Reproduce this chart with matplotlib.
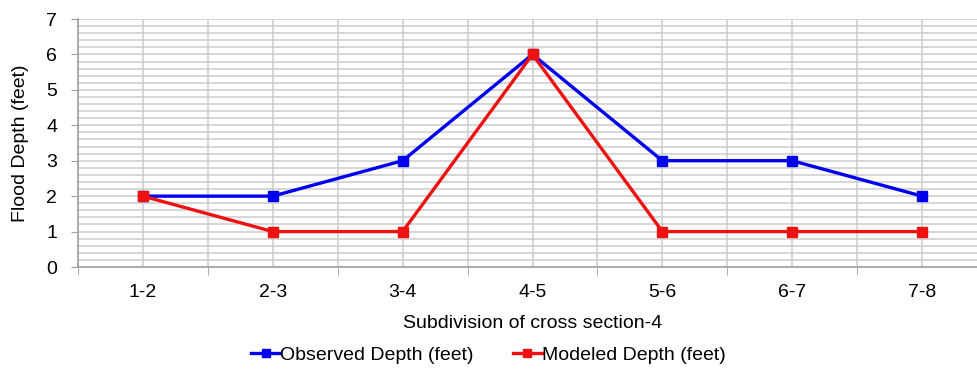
import numpy as np
import matplotlib.pyplot as plt
from matplotlib.ticker import MultipleLocator, FixedLocator

plt.rcParams['font.family'] = ['Liberation Sans', 'DejaVu Sans']

categories = ["1-2", "2-3", "3-4", "4-5", "5-6", "6-7", "7-8"]
observed = [2, 2, 3, 6, 3, 3, 2]
modeled = [2, 1, 1, 6, 1, 1, 1]

fig = plt.figure(figsize=(9.77, 3.75), dpi=100)
ax = fig.add_axes([78 / 977, 1 - 267 / 375, (987 - 78) / 977, (267 - 19) / 375])

x = np.arange(len(categories))
ax.plot(x, observed, color="#0000ee", lw=2.4, marker="s", ms=6.5,
        label="Observed Depth (feet)", zorder=3)
ax.plot(x, modeled, color="#ee1111", lw=2.4, marker="s", ms=6.5,
        label="Modeled Depth (feet)", zorder=4)

ax.set_xlim(-0.5, len(categories) - 0.5)
ax.set_ylim(0, 7)
ax.yaxis.set_major_locator(MultipleLocator(1))
ax.yaxis.set_minor_locator(MultipleLocator(0.2))
ax.set_xticks(x)
ax.set_xticklabels(categories)
ax.xaxis.set_minor_locator(FixedLocator(np.arange(-0.5, len(categories), 1.0)))

grid_c = "#cccccc"
ax.grid(True, which="both", axis="y", color=grid_c, lw=1.1)
ax.grid(True, which="both", axis="x", color=grid_c, lw=1.1)
ax.set_axisbelow(True)

for s in ["top", "right"]:
    ax.spines[s].set_visible(False)
for s in ["left", "bottom"]:
    ax.spines[s].set_color("#a0a0a0")
    ax.spines[s].set_linewidth(1.2)

ax.tick_params(axis="y", which="major", length=5, color="#a0a0a0", labelsize=14, pad=10)
ax.tick_params(axis="y", which="minor", length=0)
ax.tick_params(axis="x", which="major", length=0, labelsize=14, pad=12)
ax.tick_params(axis="x", which="minor", length=6, color="#a0a0a0")

ax.set_xlabel("Subdivision of cross section-4", fontsize=14, labelpad=10)
ax.set_ylabel("Flood Depth (feet)", fontsize=14, labelpad=12)

fig.legend(loc="center", bbox_to_anchor=(0.5, 1 - 355 / 375), ncol=2, frameon=False,
           fontsize=14, handlelength=1.5, handletextpad=0.0, columnspacing=2.0,
           markerscale=0.8)

fig.savefig("out.png", dpi=100)
